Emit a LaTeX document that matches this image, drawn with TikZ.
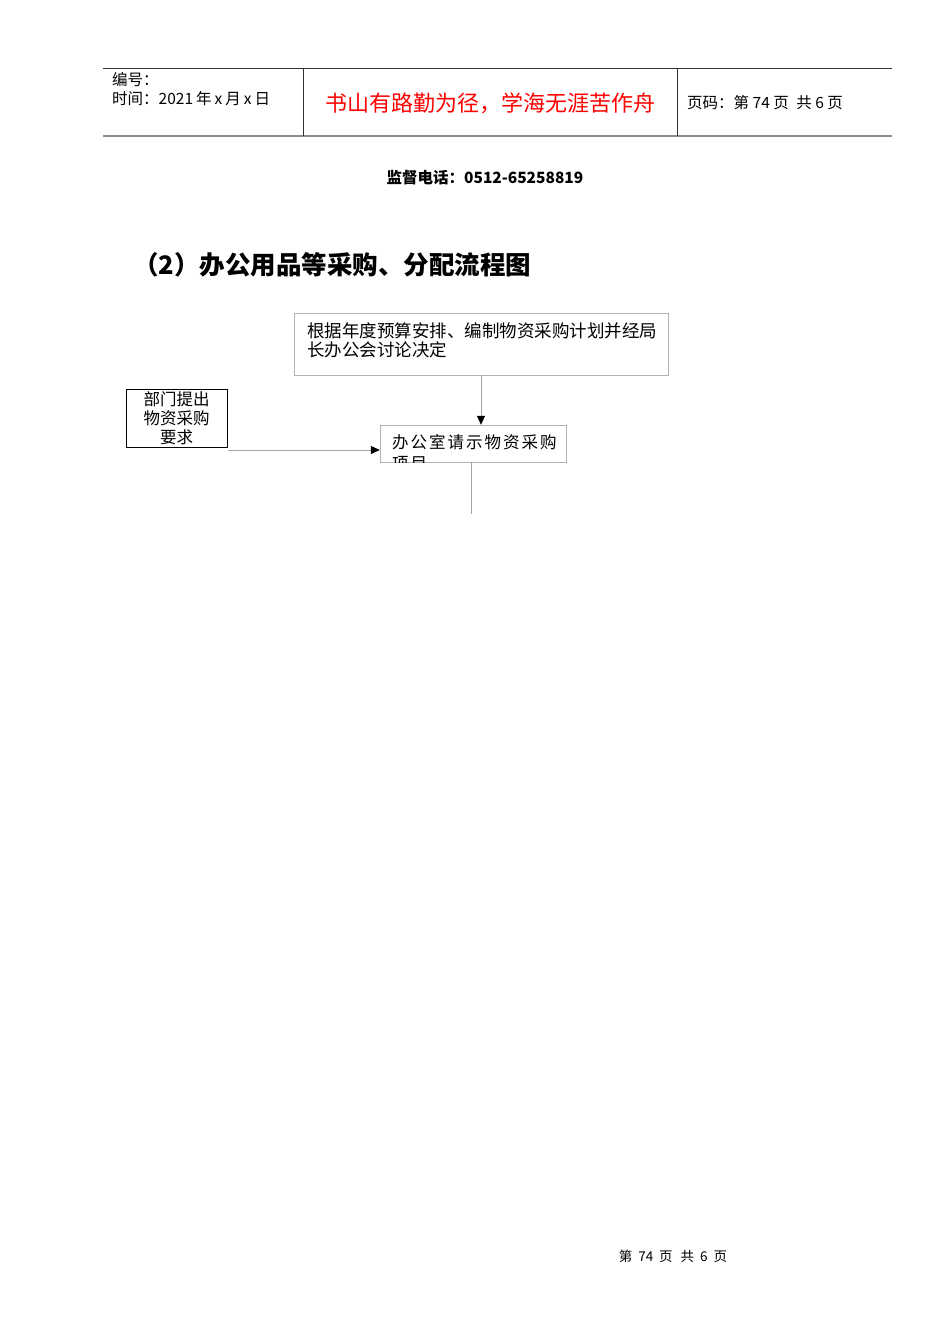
\documentclass[tikz,border=0pt]{standalone}
\usepackage{fontspec}
\setmainfont{Noto Sans CJK SC}
\newfontfamily\cjkspaced{Noto Sans CJK SC}[LetterSpace=12]
\usetikzlibrary{positioning}
\usetikzlibrary{arrows.meta}
\newcommand\pxsize[2]{\fontsize{#1}{#2}\selectfont}

\begin{document}
\begin{tikzpicture}[x=1pt,y=-1pt,
      greybox/.style={draw=black!30,rectangle,inner sep=0pt},
      darkbox/.style={draw=black,rectangle,inner sep=0pt,line width=0.8pt},
      txt/.style={inner sep=0pt,anchor=west},
      conn/.style={draw=black!35,line width=0.8pt},
      arrowed/.style={-{Triangle[length=9pt,width=8pt,color=black]}}]
    \useasboundingbox (0,0) rectangle (950,1344);

    % Header
    \draw[black!80,line width=0.8pt] (103,68) -- (892,68);
    \draw[black!45,line width=2pt]   (103,136) -- (892,136);
    \draw[black!80,line width=0.8pt] (303,68) -- (303,136) (677,68) -- (677,136);
    \node[txt,font=\pxsize{15.5}{18}] (number) at (112,80)  {编号：};
    \node[txt,font=\pxsize{15.5}{18}] (date)   at (112,99)  {时间：2021\hspace{3pt}年\hspace{3pt}x\hspace{3pt}月\hspace{3pt}x\hspace{3pt}日};
    \node[txt,anchor=center,red,font=\pxsize{22}{26}] (motto) at (490,103) {书山有路勤为径，学海无涯苦作舟};
    \node[txt,font=\pxsize{15.5}{18}] (page)   at (687,103) {页码：第 74 页\hspace{4pt} 共 6 页};

    \node[txt,anchor=center,font=\pxsize{15.5}{18}\bfseries] (phone) at (485,178) {监督电话：0512-65258819};
    \node[txt,font=\pxsize{25.5}{28}\bfseries]              (title) at (133,265) {（2）办公用品等采购、分配流程图};

    % Blocks
    \node[greybox,minimum width=374,minimum height=62]               (plan)     at (481,344)   {};
    \node[txt,align=left,font=\pxsize{17.5}{19}]                     (plantext) at (307,340)   {根据年度预算安排、编制物资采购计划并经局\\长办公会讨论决定};
    \node[darkbox,minimum width=101,minimum height=58,align=center,
          font=\pxsize{16.5}{19}]                                    (request)  at (176.5,418) {部门提出\\物资采购\\要求};
    \node[greybox,minimum width=186,minimum height=37]               (office)   at (473,443.5) {};
    \begin{scope}
      \clip (office.south west) rectangle (office.north east);
      \node[txt,align=left,font=\pxsize{16.5}{21}\cjkspaced] (officetext) at (392,453) {办公室请示物资采购\\项目};
    \end{scope}

    % Arrows
    \coordinate (reqout) at (228,450);
    \coordinate (next)   at (471,514);
    \draw[conn,arrowed] (plan.south) -- (plan.south |- office.north);
    \draw[conn,arrowed] (reqout) -- (reqout -| office.west);
    \draw[conn]         (office.south -| next) -- (next);

    % Footer
    \node[inner sep=0pt,font=\pxsize{13.5}{16}] (footer) at (673,1256) {第\hspace{6pt}74\hspace{6pt}页\hspace{8pt}共\hspace{6pt}6\hspace{6pt}页};
\end{tikzpicture}
\end{document}
